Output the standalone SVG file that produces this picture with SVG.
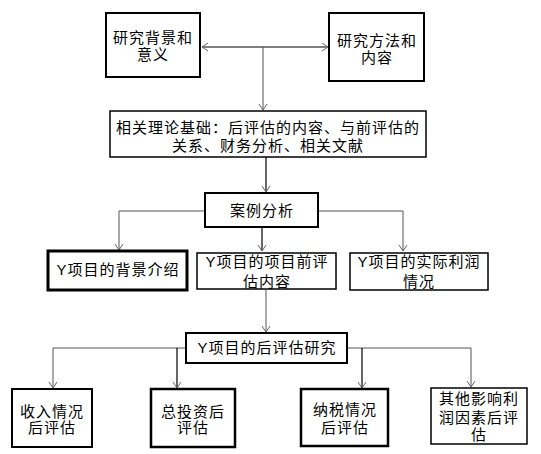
<svg xmlns="http://www.w3.org/2000/svg" width="541" height="454" viewBox="0 0 541 454">
<style>
  .box { fill: #fff; stroke: #000; }
  .t { font-family: "Liberation Sans", "Noto Sans CJK SC", sans-serif; font-size: 15px; fill: #000; text-anchor: middle; letter-spacing: 1px; }
  .c { fill: none; stroke: #555; stroke-width: 1; }
  .k { fill: none; stroke: #000; stroke-width: 1.2; }
</style>
<defs>
  <marker id="arr" markerUnits="userSpaceOnUse" markerWidth="12" markerHeight="12" refX="0" refY="0" viewBox="-8 -6 10 12" orient="auto">
    <path d="M-6,-4 L0,0 L-6,4" fill="none" stroke="#666" stroke-width="1"/>
  </marker>
  <marker id="arrs" markerUnits="userSpaceOnUse" markerWidth="12" markerHeight="12" refX="0" refY="0" viewBox="-8 -6 10 12" orient="auto-start-reverse">
    <path d="M-6,-4 L0,0 L-6,4" fill="none" stroke="#666" stroke-width="1"/>
  </marker>
</defs>
<rect width="541" height="454" fill="#fff"/>
<g id="connectors">
  <line class="k" x1="202" y1="47" x2="328" y2="47" marker-start="url(#arrs)" marker-end="url(#arrs)"/>
  <line class="c" x1="263" y1="47" x2="263" y2="110" marker-end="url(#arr)"/>
  <line class="k" x1="266" y1="157" x2="266" y2="192" marker-end="url(#arr)"/>
  <path class="c" d="M205,211 H119 V250" marker-end="url(#arr)"/>
  <line class="k" x1="262" y1="227" x2="262" y2="251" marker-end="url(#arr)"/>
  <path class="c" d="M318,211 H403 V251" marker-end="url(#arr)"/>
  <line class="c" x1="266" y1="290" x2="266" y2="332" marker-end="url(#arr)"/>
  <path class="c" d="M186,348 H53 V388" marker-end="url(#arr)"/>
  <line class="k" x1="177" y1="348" x2="177" y2="388" marker-end="url(#arr)"/>
  <path class="c" d="M348,348 H471 V387" marker-end="url(#arr)"/>
  <line class="k" x1="362" y1="348" x2="362" y2="388" marker-end="url(#arr)"/>
</g>
<g id="n1">
  <rect class="box" x="106" y="13" width="94" height="64" stroke-width="2"/>
  <text class="t" x="153" y="43">研究背景和</text>
  <text class="t" x="153" y="60">意义</text>
</g>
<g id="n2">
  <rect class="box" x="329" y="13" width="95" height="68" stroke-width="2"/>
  <text class="t" x="377" y="46">研究方法和</text>
  <text class="t" x="377" y="63">内容</text>
</g>
<g id="n3">
  <rect class="box" x="110" y="111" width="316" height="46" stroke-width="1.5"/>
  <text class="t" x="268" y="133">相关理论基础：后评估的内容、与前评估的</text>
  <text class="t" x="268" y="151">关系、财务分析、相关文献</text>
</g>
<g id="n4">
  <rect class="box" x="205" y="193" width="113" height="34" stroke-width="2"/>
  <text class="t" x="262" y="216">案例分析</text>
</g>
<g id="n5">
  <rect class="box" x="48" y="251" width="139" height="39" stroke-width="3"/>
  <text class="t" x="118" y="275">Y项目的背景介绍</text>
</g>
<g id="n6">
  <rect class="box" x="197" y="253" width="139" height="36" stroke-width="1.5"/>
  <text class="t" x="267" y="267">Y项目的项目前评</text>
  <text class="t" x="267" y="287">估内容</text>
</g>
<g id="n7">
  <rect class="box" x="350" y="253" width="138" height="37" stroke-width="1.5"/>
  <text class="t" x="419" y="267">Y项目的实际利润</text>
  <text class="t" x="419" y="287">情况</text>
</g>
<g id="n8">
  <rect class="box" x="186" y="333" width="161" height="30" stroke-width="2"/>
  <text class="t" x="267" y="353">Y项目的后评估研究</text>
</g>
<g id="n9">
  <rect class="box" x="12" y="389" width="80" height="58" stroke-width="2"/>
  <text class="t" x="52" y="417">收入情况</text>
  <text class="t" x="52" y="433">后评估</text>
</g>
<g id="n10">
  <rect class="box" x="151" y="389" width="84" height="58" stroke-width="2.5"/>
  <text class="t" x="193" y="417">总投资后</text>
  <text class="t" x="193" y="433">评估</text>
</g>
<g id="n11">
  <rect class="box" x="301" y="389" width="87" height="57" stroke-width="2.5"/>
  <text class="t" x="345" y="415">纳税情况</text>
  <text class="t" x="345" y="433">后评估</text>
</g>
<g id="n12">
  <rect class="box" x="431" y="388" width="96" height="56" stroke-width="1.5"/>
  <text class="t" x="479" y="404">其他影响利</text>
  <text class="t" x="479" y="423">润因素后评</text>
  <text class="t" x="479" y="440">估</text>
</g>
</svg>
